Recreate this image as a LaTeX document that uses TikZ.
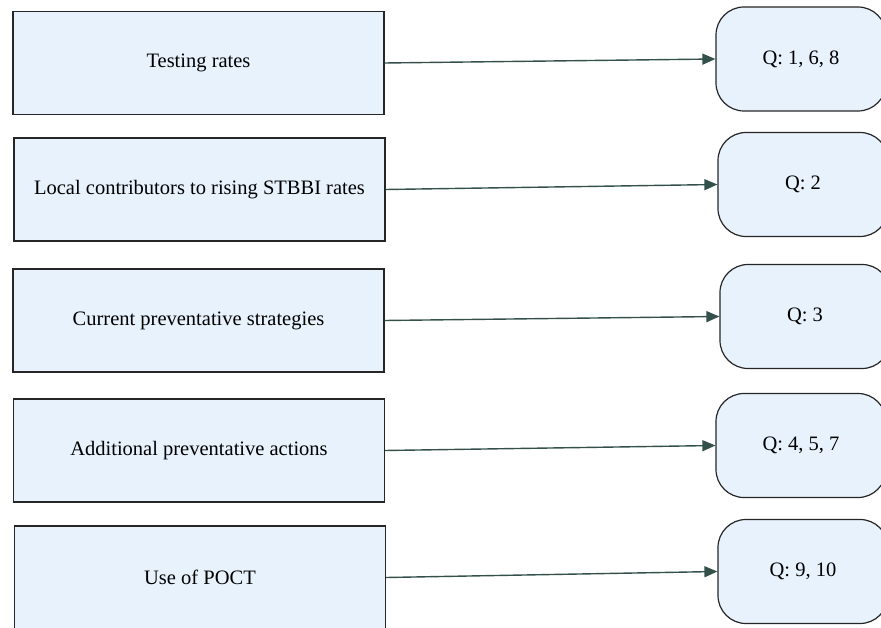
\documentclass[tikz,border=0pt]{standalone}
\usepackage{fontspec}
\setmainfont{Liberation Serif}
\usetikzlibrary{arrows.meta}
\definecolor{boxfill}{HTML}{E8F2FC}
\definecolor{linkcol}{HTML}{33504B}

\begin{document}
\begin{tikzpicture}[x=1pt,y=-1pt,
    topic/.style={draw=black!85,line width=1.2pt,fill=boxfill,minimum width=371pt,minimum height=103pt,inner sep=0pt,font=\fontsize{20.5}{24}\selectfont},
    qbox/.style={draw=black!85,line width=1.2pt,fill=boxfill,rounded corners=28pt,minimum width=170pt,minimum height=104pt,inner sep=0pt,font=\fontsize{20.5}{24}\selectfont},
    link/.style={draw=linkcol,line width=1.4pt,-{Triangle[length=13pt,width=11pt]}}]
    \useasboundingbox (0,0) rectangle (881,628);

    \node[topic] (t1) at (198.5,63) {Testing rates};
    \node[topic] (t2) at (199.5,189.5) {Local contributors to rising STBBI rates};
    \node[topic] (t3) at (198.5,320.5) {Current preventative strategies};
    \node[topic] (t4) at (199,450.5) {Additional preventative actions};
    \node[topic] (t5) at (200,577.5) {Use of POCT};

    \node[qbox] (q1) at (801,59) {Q: 1, 6, 8};
    \node[qbox] (q2) at (803,184.5) {Q: 2};
    \node[qbox] (q3) at (805,316.5) {Q: 3};
    \node[qbox] (q4) at (801,445.5) {Q: 4, 5, 7};
    \node[qbox] (q5) at (803,571.5) {Q: 9, 10};

    \draw[link] (t1.east) -- (q1.west);
    \draw[link] (t2.east) -- (q2.west);
    \draw[link] (t3.east) -- (q3.west);
    \draw[link] (t4.east) -- (q4.west);
    \draw[link] (t5.east) -- (q5.west);
\end{tikzpicture}
\end{document}
